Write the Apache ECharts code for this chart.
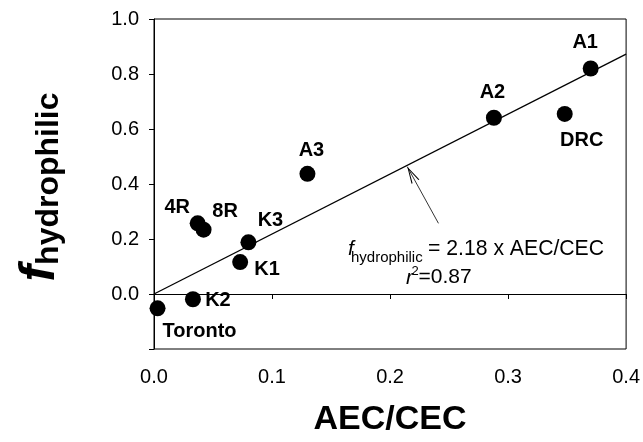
<!DOCTYPE html>
<html><head><meta charset="utf-8">
<script src="https://cdn.jsdelivr.net/npm/echarts@6/dist/echarts.min.js"></script>
<style>html,body{margin:0;padding:0;background:#fff}#c{width:643px;height:442px}</style>
</head><body><div id="c"></div>
<script>
// ---- data ----
const sampleNames = ['Toronto', 'K2', '4R', '8R', 'K1', 'K3', 'A3', 'A2', 'DRC', 'A1'];
const aecCec = [0.003, 0.033, 0.037, 0.042, 0.073, 0.080, 0.130, 0.288, 0.348, 0.370];
const fHydrophilic = [-0.052, -0.019, 0.257, 0.234, 0.116, 0.188, 0.437, 0.641, 0.655, 0.820];
const fitX = [0, 0.4];
const fitY = [0, 0.872];
const arrowFrom = [0.241, 0.257];
const arrowTo = [0.2146, 0.463];
const xTickLabels = ['0.0', '0.1', '0.2', '0.3', '0.4'];
const yTickLabels = ['0.0', '0.2', '0.4', '0.6', '0.8', '1.0'];

// ---- layout (label offsets in px, relative to dot centre) ----
const labelOffset = {
  'Toronto': [42, 23], 'K2': [25, 1.5], '4R': [-20.5, -16], '8R': [21.5, -18],
  'K1': [27, 7.5], 'K3': [22, -22], 'A3': [4, -23], 'A2': [-1.5, -25],
  'DRC': [17, 27], 'A1': [-5.5, -26.5]
};

const FONT = "'Liberation Sans', Arial, Helvetica, sans-serif";
const chart = echarts.init(document.getElementById('c'), null, {renderer: 'canvas'});

const scatterData = sampleNames.map((n, i) => ({
  name: n,
  value: [aecCec[i], fHydrophilic[i]],
  label: {offset: labelOffset[n]}
}));

// open arrow head, tip at the centre of the symbol box
const arrowPath = 'path://M0,-17 L0.01,-17 L0,-16.99 Z M0,0 L-4.5,17 L-3.3,17 L0,3.5 L3.3,17 L4.5,17 Z';

const option = {
  animation: false,
  backgroundColor: '#fff',
  grid: {left: 148, right: 15, top: 19, bottom: 89, show: true, borderColor: '#000', borderWidth: 1, backgroundColor: 'transparent'},
  xAxis: {
    type: 'value', min: 0, max: 0.4, interval: 0.1,
    name: 'AEC/CEC', nameLocation: 'middle', nameGap: 54,
    nameTextStyle: {fontFamily: FONT, fontWeight: 'bold', fontSize: 34, color: '#000'},
    axisLine: {show: true, lineStyle: {color: '#000', width: 1}},
    axisTick: {show: true, length: 5, inside: false, lineStyle: {color: '#000'}},
    axisLabel: {margin: 18, fontFamily: FONT, fontSize: 20, color: '#000',
      formatter: v => xTickLabels[Math.round(v / 0.1)] || ''},
    splitLine: {show: false}
  },
  yAxis: {
    type: 'value', min: -0.2, max: 1.0, interval: 0.2,
    name: '{f|f}{h|hydrophilic}', nameLocation: 'middle', nameGap: 89, nameRotate: 90,
    nameTextStyle: {
      fontFamily: FONT, color: '#000', padding: [0, 6, 0, 0],
      rich: {
        f: {fontFamily: FONT, fontSize: 50, fontWeight: 'bold', fontStyle: 'italic', lineHeight: 50, verticalAlign: 'top', color: '#000'},
        h: {fontFamily: FONT, fontSize: 32, fontWeight: 'bold', lineHeight: 32, padding: [25, 0, 0, 0], verticalAlign: 'bottom', color: '#000'}
      }
    },
    axisLine: {show: true, lineStyle: {color: '#000', width: 1}},
    axisTick: {show: true, length: 5, inside: false, lineStyle: {color: '#000'}},
    axisLabel: {margin: 15, fontFamily: FONT, fontSize: 20, color: '#000',
      formatter: v => { const k = Math.round(v / 0.2); return k >= 0 ? (yTickLabels[k] || '') : ''; }},
    splitLine: {show: false}
  },
  series: [
    {
      type: 'line', name: 'fit', data: fitX.map((x, i) => [x, fitY[i]]),
      symbol: 'none', lineStyle: {color: '#000', width: 1.3}, silent: true, z: 2,
      markLine: {
        silent: true, animation: false,
        symbol: ['none', arrowPath], symbolSize: [9, 34],
        lineStyle: {color: '#000', width: 0.8, type: 'solid'},
        label: {show: false},
        emphasis: {disabled: true},
        data: [[{coord: arrowFrom}, {coord: arrowTo}]]
      }
    },
    {
      type: 'scatter', name: 'samples', data: scatterData,
      symbol: 'circle', symbolSize: 16, itemStyle: {color: '#000', opacity: 1}, z: 3,
      label: {show: true, position: 'inside', formatter: '{b}', align: 'center', verticalAlign: 'middle',
        fontFamily: FONT, fontWeight: 'bold', fontSize: 20, color: '#000'}
    }
  ],
  graphic: [
    {type: 'text', x: 348, y: 248.7, style: {text: 'f', font: 'italic 21px ' + FONT, fill: '#000', textAlign: 'left', textVerticalAlign: 'middle'}},
    {type: 'text', x: 351, y: 258.3, style: {text: 'hydrophilic', font: '15px ' + FONT, fill: '#000', textAlign: 'left', textVerticalAlign: 'middle'}},
    {type: 'text', x: 428, y: 248.7, style: {text: '= 2.18 x AEC/CEC', font: '21.2px ' + FONT, fill: '#000', textAlign: 'left', textVerticalAlign: 'middle'}},
    {type: 'text', x: 406, y: 277.7, style: {text: 'r', font: 'italic 21px ' + FONT, fill: '#000', textAlign: 'left', textVerticalAlign: 'middle'}},
    {type: 'text', x: 411.5, y: 271.8, style: {text: '2', font: '13px ' + FONT, fill: '#000', textAlign: 'left', textVerticalAlign: 'middle'}},
    {type: 'text', x: 418.5, y: 277.7, style: {text: '=0.87', font: '21px ' + FONT, fill: '#000', textAlign: 'left', textVerticalAlign: 'middle'}}
  ]
};
chart.setOption(option);
</script></body></html>
